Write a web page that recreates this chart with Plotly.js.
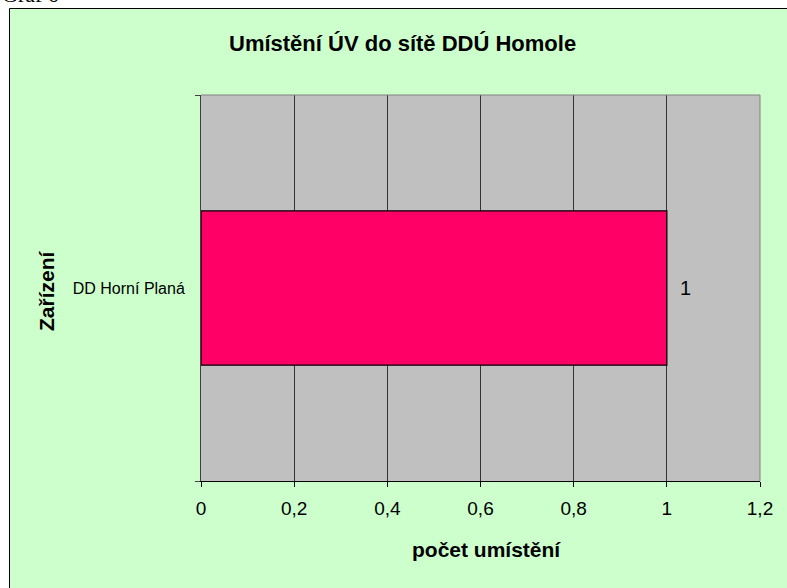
<!DOCTYPE html>
<html><head><meta charset="utf-8">
<script src="https://cdn.plot.ly/plotly-3.0.1.min.js"></script>
<style>html,body{margin:0;padding:0;background:#fff;}</style>
</head><body>
<div id="chart" style="width:787px;height:588px;"></div>
<script>
const categories = ["DD Horní Planá"];
const values = [1];
const xTickVals = [0, 0.2, 0.4, 0.6, 0.8, 1, 1.2];
const xTickText = ["0", "0,2", "0,4", "0,6", "0,8", "1", "1,2"];
const chartTitle = "Umístění ÚV do sítě DDÚ Homole";
const xTitle = "počet umístění";
const yTitle = "Zařízení";
const captionText = "Graf 6";

const W = 787, H = 588, L = 201, R = 760, T = 95, B = 481;
const px = x => (x - L) / (R - L);
const py = y => (B - y) / (B - T);
const FONT = "Arial, 'Liberation Sans', sans-serif";

const trace = {
  type: "bar", orientation: "h",
  x: values, y: categories,
  marker: {color: "#FF0066", line: {color: "#000", width: 1.3}},
  hoverinfo: "none"
};

const layout = {
  width: W, height: H,
  margin: {l: L, r: W - R, t: T, b: H - B, pad: 0},
  paper_bgcolor: "#ffffff",
  plot_bgcolor: "#C0C0C0",
  bargap: 0.6,
  showlegend: false,
  xaxis: {
    range: [0, 1.2], tickvals: xTickVals, ticktext: xTickText,
    showgrid: true, gridcolor: "#333333", gridwidth: 1,
    zeroline: false, showline: true, linecolor: "#000", linewidth: 1,
    ticks: "outside", ticklen: 5, tickcolor: "#000",
    ticklabelstandoff: 5,
    tickfont: {family: FONT, size: 19, color: "#000"},
    fixedrange: true
  },
  yaxis: {
    type: "category", range: [-0.5, 0.5],
    showgrid: false, zeroline: false, showline: true, linecolor: "#404040", linewidth: 1,
    ticks: "outside", tickson: "boundaries", ticklen: 5, tickcolor: "#404040",
    ticklabelstandoff: 12,
    tickfont: {family: FONT, size: 16, color: "#000"},
    fixedrange: true
  },
  shapes: [
    {type: "rect", xref: "paper", yref: "paper", layer: "below",
     x0: px(9.5), x1: px(800), y0: py(8.5), y1: py(600),
     fillcolor: "#CCFFCC", line: {color: "#000", width: 1}},
    {type: "rect", xref: "paper", yref: "paper", layer: "below",
     x0: 0, x1: 1, y0: 0, y1: 1,
     fillcolor: "#C0C0C0", line: {width: 0}},
    {type: "line", xref: "paper", yref: "paper", layer: "above",
     x0: 0, x1: 1, y0: 1, y1: 1, line: {color: "#808080", width: 1}},
    {type: "line", xref: "paper", yref: "paper", layer: "above",
     x0: 1, x1: 1, y0: 0, y1: 1, line: {color: "#808080", width: 1}}
  ],
  annotations: [
    {xref: "paper", yref: "paper", x: px(402), y: py(44), text: "<b>" + chartTitle + "</b>",
     showarrow: false, xanchor: "center", yanchor: "middle",
     font: {family: FONT, size: 22, color: "#000"}},
    {xref: "paper", yref: "paper", x: px(486), y: py(549), text: "<b>" + xTitle + "</b>",
     showarrow: false, xanchor: "center", yanchor: "middle",
     font: {family: FONT, size: 21, color: "#000"}},
    {xref: "paper", yref: "paper", x: px(46), y: py(291), text: "<b>" + yTitle + "</b>",
     showarrow: false, xanchor: "center", yanchor: "middle", textangle: -90,
     font: {family: FONT, size: 21, color: "#000"}},
    {xref: "paper", yref: "paper", x: px(0), y: py(-5), text: captionText,
     showarrow: false, xanchor: "left", yanchor: "middle",
     font: {family: "'Liberation Serif', 'Times New Roman', serif", size: 22, color: "#000"}},
    ...values.map((v, i) => ({
      x: v, y: categories[i], xref: "x", yref: "y", text: String(v),
      showarrow: false, xanchor: "left", yanchor: "middle", xshift: 11,
      font: {family: FONT, size: 20, color: "#000"}
    }))
  ]
};

Plotly.newPlot("chart", [trace], layout, {displayModeBar: false, staticPlot: true});
</script>
</body></html>
